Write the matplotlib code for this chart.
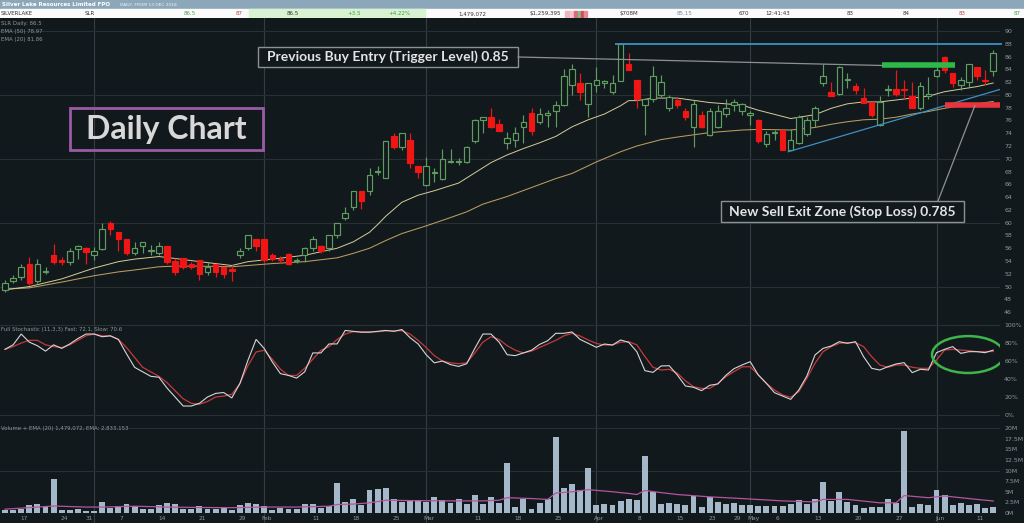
import matplotlib
matplotlib.use("Agg")
import matplotlib.pyplot as plt
from matplotlib.patches import Rectangle, Ellipse, ConnectionPatch
import numpy as np

# ---- data (price in cents, volume in millions) ----
opens = [49.5, 50.8, 51.45, 53.5, 50.8, 52.3, 54.9, 54.1, 53.8, 55.9,
         56.0, 54.9, 55.9, 60.0, 58.5, 57.5, 55.3, 56.4, 55.5, 55.3,
         56.4, 54.0, 54.4, 53.5, 54.1, 52.3, 53.5, 53.0, 52.7, 54.9,
         56.0, 57.4, 57.4, 54.9, 54.3, 55.1, 54.0, 54.9, 56.0, 56.4,
         56.0, 58.1, 60.7, 62.4, 64.9, 64.9, 67.9, 67.0, 73.6, 71.9,
         72.9, 68.9, 65.9, 67.7, 66.9, 69.5, 69.5, 69.5, 72.8, 76.0,
         76.5, 75.4, 72.4, 72.9, 75.0, 77.1, 75.8, 76.9, 77.4, 78.4,
         81.5, 81.9, 78.5, 81.5, 81.9, 80.4, 82.2, 84.9, 82.4, 78.4,
         79.3, 80.0, 77.9, 79.2, 77.5, 74.9, 76.9, 73.7, 74.9, 77.0,
         78.4, 77.4, 76.9, 76.0, 72.3, 74.0, 74.5, 71.4, 72.4, 73.9,
         76.1, 81.9, 80.5, 80.2, 82.3, 81.4, 79.5, 78.9, 75.3, 80.7,
         80.9, 80.9, 79.8, 77.9, 79.9, 82.96, 85.98, 83.5, 81.5, 82.07,
         84.4, 82.4, 83.8]
highs = [51.0, 51.8, 53.6, 54.7, 54.3, 53.0, 56.7, 54.6, 56.0, 56.5,
         56.2, 56.2, 60.0, 60.2, 58.5, 57.5, 57.0, 57.0, 56.5, 57.0,
         56.4, 54.4, 54.4, 53.9, 54.1, 53.9, 53.5, 53.0, 53.4, 56.0,
         58.1, 57.4, 57.5, 55.2, 54.8, 55.3, 54.4, 56.2, 57.9, 56.5,
         58.1, 60.0, 62.5, 64.9, 64.9, 68.5, 68.8, 72.8, 74.0, 74.0,
         74.0, 68.9, 70.3, 68.5, 71.5, 71.5, 70.1, 72.0, 76.3, 76.5,
         77.9, 76.2, 74.2, 74.9, 76.8, 77.9, 77.9, 77.6, 79.0, 84.0,
         84.8, 83.4, 81.9, 84.4, 82.4, 83.1, 88.0, 86.5, 82.4, 79.3,
         84.5, 83.1, 80.0, 79.6, 77.9, 79.2, 77.4, 77.9, 78.4, 79.3,
         79.3, 78.8, 77.4, 76.3, 74.4, 74.5, 74.5, 74.6, 76.9, 76.5,
         78.3, 84.9, 82.07, 84.5, 83.4, 81.8, 81.0, 78.9, 79.8, 81.6,
         83.9, 82.4, 82.07, 82.07, 82.8, 84.9, 86.1, 83.5, 82.85, 84.9,
         84.4, 83.9, 87.0]
lows = [49.2, 50.5, 51.0, 50.2, 50.5, 52.0, 53.6, 53.4, 53.4, 54.3,
        53.6, 54.2, 55.7, 58.1, 55.5, 54.9, 54.9, 55.2, 54.9, 54.9,
        53.6, 51.8, 52.8, 52.8, 51.0, 51.8, 51.5, 51.3, 50.9, 54.4,
        55.7, 55.5, 53.9, 54.0, 53.7, 53.3, 53.7, 53.8, 55.5, 55.3,
        55.5, 57.6, 60.4, 62.0, 62.2, 64.3, 67.5, 67.0, 71.6, 71.4,
        68.5, 67.0, 65.7, 66.4, 66.7, 69.3, 69.0, 69.3, 72.4, 74.0,
        74.8, 74.4, 71.6, 71.8, 72.4, 73.7, 75.5, 75.0, 75.0, 78.3,
        80.0, 79.2, 76.5, 80.5, 81.0, 80.2, 82.2, 83.9, 77.9, 73.7,
        78.9, 79.7, 77.4, 77.9, 76.1, 71.9, 74.8, 73.5, 74.8, 76.6,
        77.4, 76.9, 75.3, 72.5, 71.8, 72.9, 71.4, 71.3, 72.3, 73.5,
        74.9, 81.4, 79.9, 80.0, 81.0, 80.2, 78.7, 76.6, 75.1, 79.8,
        79.9, 79.3, 77.9, 77.7, 79.3, 82.86, 83.4, 81.3, 80.8, 81.0,
        82.3, 81.5, 83.0]
closes = [50.5, 51.4, 53.0, 50.5, 53.5, 52.5, 53.9, 53.9, 55.5, 56.4,
          55.4, 55.5, 59.0, 59.0, 57.4, 55.3, 56.0, 57.0, 55.7, 56.4,
          53.9, 52.3, 53.1, 53.1, 52.0, 53.0, 52.3, 52.0, 52.5, 55.5,
          58.1, 56.4, 54.2, 54.3, 54.1, 53.5, 54.1, 56.0, 57.4, 55.5,
          58.1, 60.0, 61.5, 64.9, 63.4, 67.5, 68.1, 72.8, 71.9, 74.0,
          69.4, 67.9, 68.9, 67.9, 69.9, 69.6, 69.6, 71.9, 76.0, 76.5,
          74.9, 74.4, 73.3, 74.0, 75.8, 74.4, 77.0, 77.1, 78.4, 82.9,
          84.0, 80.4, 81.9, 82.4, 82.1, 81.9, 87.9, 83.9, 79.3, 79.3,
          82.96, 81.96, 79.7, 78.4, 76.5, 78.6, 74.9, 77.4, 77.4, 77.9,
          78.9, 78.6, 77.1, 72.8, 73.9, 74.2, 71.4, 72.9, 76.5, 76.0,
          77.9, 82.96, 79.9, 84.4, 82.5, 80.8, 78.8, 76.9, 78.9, 80.9,
          80.2, 80.7, 77.9, 81.4, 80.1, 83.9, 83.9, 81.9, 82.4, 84.9,
          82.96, 82.2, 86.5]

ema_days = [0, 3, 7, 11, 14, 16, 19, 21, 24, 28, 30, 33, 37, 41, 43, 45, 46,
            47, 49, 51, 53, 56, 58, 60, 62, 64, 66, 68, 70, 72, 74, 76, 77,
            78, 80, 83, 87, 91, 93, 97, 100, 102, 104, 106, 108, 110, 112,
            114, 116, 118, 120, 122]
ema20 = [49.5, 50.0, 51.2, 52.9, 53.9, 54.3, 54.7, 54.4, 53.9, 53.3, 53.9,
         54.3, 54.9, 56.0, 57.0, 58.5, 59.7, 61.0, 63.2, 64.3, 65.0, 66.2,
         67.8, 69.4, 70.6, 71.6, 72.5, 73.5, 75.0, 76.1, 77.0, 78.3, 79.1,
         79.1, 79.5, 79.5, 78.8, 78.4, 77.6, 76.3, 76.9, 77.9, 78.6, 78.9,
         78.9, 79.2, 79.5, 79.8, 80.5, 80.9, 81.3, 81.86]
ema50_days = [0, 3, 7, 11, 14, 16, 19, 21, 24, 28, 30, 33, 37, 41, 43, 45,
              47, 49, 52, 55, 57, 59, 62, 65, 68, 70, 73, 76, 78, 81, 83, 87,
              91, 93, 97, 100, 102, 104, 106, 108, 110, 112, 114, 116, 118,
              120, 122]
ema50 = [49.6, 49.8, 50.7, 51.7, 52.3, 52.6, 53.1, 53.2, 53.2, 53.1, 53.3,
         53.6, 53.9, 54.5, 55.2, 56.0, 57.2, 58.3, 59.5, 60.8, 61.7, 62.9,
         64.1, 65.5, 66.9, 67.7, 69.5, 71.1, 72.0, 73.0, 73.4, 74.1, 74.5,
         74.6, 74.5, 74.9, 75.4, 75.8, 76.1, 76.2, 76.5, 77.0, 77.4, 77.9,
         78.3, 78.6, 78.97]

stoch_fast = [73, 78, 90, 81, 77, 71, 78, 74, 79, 85, 90, 90, 87, 88, 84, 68,
              53, 48, 43, 42, 30, 20, 10, 10, 13, 20, 24, 25, 19, 35, 61, 84,
              74, 59, 46, 44, 41, 48, 69, 69, 79, 79, 94, 93, 92, 92, 93, 94,
              93, 95, 86, 79, 67, 58, 60, 56, 54, 57, 74, 90, 90, 81, 67, 66,
              69, 72, 78.5, 82.6, 90.8, 90.8, 92.3, 84, 79.7, 75.2, 78.9, 77.8,
              83.4, 80.8, 70.4, 49.3, 47.4, 54.5, 54.8, 44.5, 32.3, 30.8, 27.1,
              33, 34.5, 44.1, 51.5, 55.6, 59.3, 44.5, 35.2, 24.8, 21.1, 17.4,
              27.8, 43.4, 66.7, 74.1, 76.7, 81.5, 79.7, 81.5, 64.8, 51.9, 50,
              53.7, 56.7, 58.2, 47.1, 50.8, 50, 69.3, 73, 76, 68.5, 70.4, 70.4,
              69.3, 72.1]
stoch_slow = [73, 76, 80, 83, 83, 78, 76, 75, 78, 83, 88, 90, 88, 88, 84, 75,
              64, 53, 48, 43, 36, 27, 18, 13, 12, 15, 20, 21, 23, 35, 55, 70,
              72, 62, 51, 44, 44, 52, 62, 72, 76, 84, 90, 92.6, 92.6, 92.6,
              92.6, 93.5, 93.7, 93.7, 90, 83, 75, 66, 60, 58, 57, 58, 69, 81,
              87, 84, 77, 72, 69, 71, 75, 79, 83, 88, 90.8, 87.8, 83.4, 79.6,
              77.8, 77.8, 81, 81.5, 78, 65, 53, 50, 50.8, 46.5, 38, 31.5, 29.6,
              29.6, 35, 42.6, 48.2, 53.5, 53.7, 44.5, 35.2, 27.8, 22.3, 19.7,
              26, 40.8, 57.4, 70.4, 76, 79.6, 80.4, 80.4, 76, 64.8, 55.6, 53,
              55.6, 55.6, 53, 51.9, 51.9, 61.1, 72.2, 73, 72.2, 71.5, 70.4,
              70.5, 70.6]

volume = [0.8, 0.8, 1.0, 2.0, 2.2, 1.4, 8.1, 0.8, 0.8, 0.9, 0.55, 0.55, 2.5,
          1.2, 1.6, 2.05, 1.6, 1.0, 0.9, 1.8, 2.45, 2.05, 1.0, 0.9, 1.6, 0.9,
          0.9, 1.4, 0.8, 2.0, 2.45, 2.05, 1.6, 0.6, 1.2, 0.9, 0.9, 2.2, 2.05,
          1.26, 1.66, 6.95, 2.6, 3.4, 1.8, 5.4, 5.6, 5.8, 3.2, 2.6, 3.0, 3.0,
          2.6, 3.8, 3.0, 2.45, 3.4, 2.2, 4.35, 2.2, 3.8, 2.45, 11.7, 1.4, 3.2,
          1.0, 2.45, 3.4, 17.8, 5.9, 6.8, 5.5, 10.7, 2.0, 2.2, 1.8, 2.8, 3.2,
          3.0, 13.3, 5.0, 2.2, 2.4, 2.2, 1.8, 4.0, 1.4, 3.8, 2.6, 2.2, 2.45,
          2.0, 1.8, 1.6, 1.6, 1.6, 1.6, 2.2, 3.0, 2.05, 3.2, 7.35, 2.8, 5.0,
          2.6, 1.8, 1.26, 1.4, 1.4, 3.2, 2.4, 19.2, 1.4, 2.05, 1.8, 5.4, 4.2,
          1.8, 2.4, 1.8, 2.05, 1.2, 1.48]
vema_days = [0, 4, 6, 10, 12, 16, 20, 24, 28, 32, 36, 40, 41, 43, 45, 46, 47,
             51, 55, 59, 61, 62, 65, 67, 68, 70, 72, 75, 77, 78, 79, 81, 83,
             87, 91, 96, 100, 101, 104, 108, 110, 111, 114, 116, 120, 122]
vol_ema = [0.9, 1.4, 1.65, 1.4, 1.4, 1.6, 1.4, 1.3, 1.25, 1.4, 1.4, 1.6, 2.0,
           2.1, 2.4, 2.7, 3.0, 2.9, 2.85, 2.85, 3.0, 3.6, 3.4, 3.2, 4.7, 5.0,
           5.5, 5.0, 4.6, 4.35, 5.3, 4.8, 4.35, 3.8, 3.4, 2.85, 2.6, 3.2, 3.2,
           2.4, 2.4, 4.1, 3.6, 4.0, 3.2, 2.83]

month_days = [11, 32, 52, 73, 92, 115]
tick_days = [2, 7, 10, 14, 19, 24, 29, 32, 38, 43, 48, 52, 58, 63, 68, 73,
             78, 83, 87, 90, 92, 95, 100, 105, 110, 115, 120]
tick_labels = ["17", "24", "31", "7", "14", "21", "29", "Feb", "11", "18",
               "25", "Mar", "11", "18", "25", "Apr", "8", "15", "23", "29",
               "May", "6", "13", "20", "27", "Jun", "11"]

resistance = 88.0          # blue line from the April high
trigger_bar = 84.6         # green bar
stop_bar = 78.35           # red bar
trend_days = [96.7, 123.5]
trend_vals = [71.1, 81.1]

# ---- styling ----
BG = "#12191c"
GRID = "#273034"
MONTH = "#343e42"
UP = "#5f9c60"
DOWN = "#f01616"
TXT = "#8d979c"
W, H = 1024, 523

fig = plt.figure(figsize=(W / 100, H / 100), dpi=100, facecolor=BG)


def px_axes(x0, y0, x1, y1):
    a = fig.add_axes([x0 / W, 1 - y1 / H, (x1 - x0) / W, (y1 - y0) / H])
    a.set_facecolor(BG)
    for s in a.spines.values():
        s.set_visible(False)
    return a


days = np.arange(len(closes))
xlim = (-5 / 8.1, 995 / 8.1)

ax_p = px_axes(0, 18, 1000, 320)
ax_s = px_axes(0, 320, 1000, 424)
ax_v = px_axes(0, 424, 1000, 523)

for a in (ax_p, ax_s, ax_v):
    a.set_xlim(*xlim)
    a.set_xticks([])
    a.yaxis.tick_right()
    a.tick_params(axis="y", length=0, pad=3, labelsize=4.5, labelcolor=TXT)
    for d in month_days:
        a.axvline(d, color=MONTH, lw=0.8, zorder=0)

# price panel
ax_p.set_ylim(44.77, 92.03)
ax_p.set_yticks(np.arange(46, 91, 2))
for lv in range(50, 91, 10):
    ax_p.axhline(lv, color=GRID, lw=0.8, zorder=0)

ax_p.plot(ema50_days, ema50, color="#b99d62", lw=0.75, zorder=2)
ax_p.plot(ema_days, ema20, color="#d4ce9a", lw=0.7, zorder=2)

bw = 0.68
for i in days:
    o, h, l, c = opens[i], highs[i], lows[i], closes[i]
    up = c >= o
    col = UP if up else DOWN
    ax_p.vlines(i, l, h, color=col, lw=0.85, zorder=3)
    ax_p.add_patch(Rectangle((i - bw / 2, min(o, c)), bw, max(abs(c - o), 0.12),
                             facecolor=BG if up else DOWN, edgecolor=col,
                             lw=0.85, zorder=4))

ax_p.hlines(resistance, 75.3, xlim[1] + 0.3, color="#3d8fc4", lw=1.3, zorder=5, clip_on=False)
ax_p.plot(trend_days, trend_vals, color="#3d8fc4", lw=0.9, zorder=5)
ax_p.hlines(trigger_bar, 108.3, 117.3, color="#2fb84a", lw=4, zorder=6)
ax_p.hlines(stop_bar, 116.1, 122.95, color="#e8343c", lw=4, zorder=6)

# stochastic panel
ax_s.set_ylim(-10, 105.6)
ax_s.set_yticks([0, 20, 40, 60, 80, 100])
ax_s.set_yticklabels(["0%", "20%", "40%", "60%", "80%", "100%"])
for lv in (0, 100):
    ax_s.axhline(lv, color=GRID, lw=0.8, zorder=0)
ax_s.plot(days, stoch_slow, color="#c23a3c", lw=0.9, zorder=2)
ax_s.plot(days, stoch_fast, color="#d6d6d6", lw=0.8, zorder=3)
ax_s.add_patch(Ellipse((118.9, 67.2), 8.9, 41, fill=False, ec="#3db54a", lw=1.8, zorder=5))

# volume panel
ax_v.set_ylim(-2.35, 20.94)
vt = np.arange(0, 20.1, 2.5)
ax_v.set_yticks(vt)
ax_v.set_yticklabels([("%g" % v) + "M" for v in vt])
for lv in (10, 20):
    ax_v.axhline(lv, color=GRID, lw=0.8, zorder=0)
ax_v.bar(days, volume, width=0.74, color="#a5b8c9", zorder=2)
ax_v.plot(vema_days, vol_ema, color="#b4559e", lw=0.9, zorder=3)
for d, lab in zip(tick_days, tick_labels):
    ax_v.text(d + 0.35, 0.05, lab, transform=ax_v.get_xaxis_transform(),
              ha="center", va="center", fontsize=4.2, color=TXT)

# header
ax_h = px_axes(0, 0, 1024, 18)
ax_h.set_xlim(0, 1024)
ax_h.set_ylim(18, 0)
ax_h.set_xticks([])
ax_h.set_yticks([])
ax_h.add_patch(Rectangle((0, 0), 1024, 9.3, color="#8da7ba"))
ax_h.add_patch(Rectangle((0, 9.3), 1024, 8.7, color="#fbfbfb"))
ax_h.add_patch(Rectangle((249, 9.3), 176, 8.7, color="#d9f2d2"))
ax_h.text(2, 4.8, "Silver Lake Resources Limited FPO", fontsize=4.0,
          fontweight="bold", color="white", va="center")
ax_h.text(120, 5.0, "DAILY, FROM 13 DEC 2018", fontsize=3.2, color="#f0f4f8", va="center")
fields = [(1, "SILVERLAKE", "#333333"), (85, "SLR", "#333333"),
          (184, "86.5", "#4aa04a"), (236, "87", "#c84040"),
          (287, "86.5", "#333333"), (347, "+3.5", "#3f9f3f"),
          (388, "+4.22%", "#3f9f3f"), (458, "1,479,072", "#333333"),
          (530, "$1,259,395", "#333333"), (620, "$708M", "#333333"),
          (677, "85.15", "#6d8aa6"), (739, "670", "#333333"),
          (765, "12:41:43", "#333333"), (847, "83", "#333333"),
          (903, "84", "#333333"), (959, "83", "#c84040"),
          (1014, "87", "#3f9f3f")]
for x, s, c in fields:
    ax_h.text(x, 13.8, s, fontsize=4.0, color=c, va="center")
for x0, w, c in [(565, 5, "#f2b3bd"), (570, 4, "#f2c6cc"), (574, 3, "#e06a78"),
                 (578, 3, "#7fbf7f"), (581, 2, "#d94a5a"), (584, 3, "#e88a96")]:
    ax_h.add_patch(Rectangle((x0, 11), w, 5.5, color=c))

# overlay for labels and boxes (pixel coords)
ax_o = fig.add_axes([0, 0, 1, 1])
ax_o.set_xlim(0, W)
ax_o.set_ylim(H, 0)
ax_o.axis("off")
ax_o.patch.set_alpha(0)

small = dict(fontsize=3.9, color=TXT, va="center")
ax_o.text(1, 23.3, "SLR Daily: 86.5", **small)
ax_o.text(1, 31.5, "EMA (50) 78.97", **small)
ax_o.text(1, 39.5, "EMA (20) 81.86", **small)
ax_o.text(1, 330, "Full Stochastic (11,3,3) Fast: 72.1, Slow: 70.6", **small)
ax_o.text(1, 428.5, "Volume + EMA (20) 1,479,072, EMA: 2,833,153", **small)

ax_o.add_patch(Rectangle((70, 108), 193, 42, fill=False, ec="#9b5aa5", lw=2))
ax_o.text(166.5, 129.5, "Daily Chart", fontsize=23, fontweight="bold",
          family="Lato", color="#d8d8d8", ha="center", va="center")

ax_o.add_patch(Rectangle((258, 46.5), 260, 20, facecolor=BG, ec="#8c9194", lw=1, zorder=3))
ax_o.text(388, 56.8, "Previous Buy Entry (Trigger Level) 0.85", fontsize=10,
          fontweight="bold", family="Lato", color="#e4e4e4", ha="center",
          va="center", zorder=4)
ax_o.add_patch(Rectangle((721, 201), 243, 21, facecolor=BG, ec="#8c9194", lw=1, zorder=3))
ax_o.text(842.5, 211.8, "New Sell Exit Zone (Stop Loss) 0.785", fontsize=10,
          fontweight="bold", family="Lato", color="#e4e4e4", ha="center",
          va="center", zorder=4)

fig.add_artist(ConnectionPatch((518, 57), (108.3, trigger_bar), ax_o.transData,
                               ax_p.transData, color="#8c9194", lw=0.9))
fig.add_artist(ConnectionPatch((938, 201), (119.75, stop_bar), ax_o.transData,
                               ax_p.transData, color="#8c9194", lw=0.9))

fig.savefig("out.png", dpi=100, facecolor=BG)
